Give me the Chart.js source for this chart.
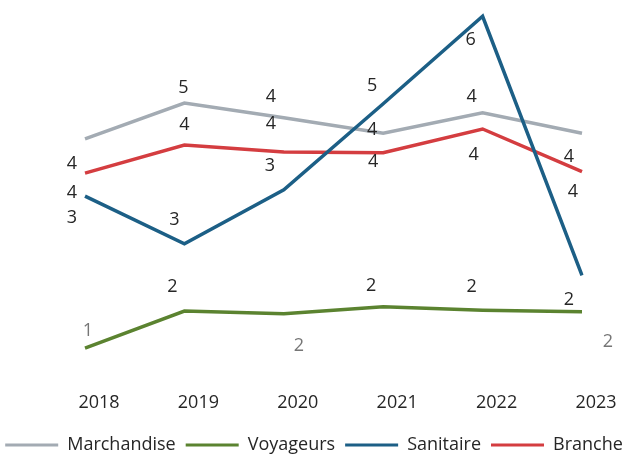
<!DOCTYPE html>
<html>
<head>
<meta charset="utf-8">
<script src="https://cdn.jsdelivr.net/npm/chart.js@4/dist/chart.umd.min.js"></script>
<style>
  html, body { margin: 0; padding: 0; background: #ffffff; }
  #c { display: block; }
</style>
</head>
<body>
<canvas id="c" width="628" height="454"></canvas>
<script>
// ---- data ----
const years = ['2018', '2019', '2020', '2021', '2022', '2023'];
const seriesNames = ['Marchandise', 'Voyageurs', 'Sanitaire', 'Branche'];
const marchandise = [4.06, 4.57, 4.36, 4.14, 4.43, 4.14];
const voyageurs   = [1.07, 1.60, 1.56, 1.66, 1.61, 1.59];
const sanitaire   = [3.24, 2.56, 3.33, 4.56, 5.81, 2.11];
const branche     = [3.57, 3.97, 3.87, 3.86, 4.20, 3.59];

// ---- styles ----
const seriesColors = ['#a3abb3', '#5b8330', '#1c5f86', '#d43d40'];
// label offsets relative to each point [dx, dy]
const labelOffsets = [
  [[-13, 25], [-1, -15], [-13, -21], [-11, -3], [-11, -16], [-13, 24]],
  [[3, -17], [-12, -24], [15, 32], [-12, -21], [-11, -23], [26, 30]],
  [[-13, 22], [-10, -24], [-14, -24], [-11, -18], [-12, 24], [-13, 25]],
  [[-13, 20], [0, -20], [-13, -28], [-10, 9], [-9, 26], [-9, 20]]
];
const dark = '#262626', light = '#767676';
const labelColors = [
  [dark, dark, dark, dark, dark, dark],
  [light, dark, light, dark, dark, light],
  [dark, dark, dark, dark, dark, dark],
  [dark, dark, dark, dark, dark, dark]
];
const FONT = "'Open Sans', 'Noto Sans', sans-serif";
const FONT_SIZE = 18;

const valueLabels = {
  id: 'valueLabels',
  afterDatasetsDraw(chart) {
    const ctx = chart.ctx;
    ctx.save();
    ctx.font = FONT_SIZE + "px " + FONT;
    ctx.textAlign = 'center';
    ctx.textBaseline = 'middle';
    chart.data.datasets.forEach((ds, i) => {
      const meta = chart.getDatasetMeta(i);
      meta.data.forEach((pt, j) => {
        const off = labelOffsets[i][j];
        ctx.fillStyle = labelColors[i][j];
        ctx.fillText(String(Math.round(ds.data[j])), pt.x + off[0], pt.y + off[1]);
      });
    });
    ctx.restore();
  }
};

const allSeries = [marchandise, voyageurs, sanitaire, branche];
const datasets = allSeries.map((d, i) => ({
  label: seriesNames[i],
  data: d,
  borderColor: seriesColors[i],
  backgroundColor: seriesColors[i],
  borderWidth: 3.5,
  pointRadius: 0,
  pointHoverRadius: 0,
  tension: 0,
  order: i === 2 ? 0 : 1
}));

new Chart(document.getElementById('c'), {
  type: 'line',
  data: { labels: years, datasets },
  options: {
    responsive: false,
    animation: false,
    devicePixelRatio: 1,
    layout: { padding: { top: 3, bottom: -10, left: -6, right: -6 } },
    plugins: {
      tooltip: { enabled: false },
      legend: {
        position: 'bottom',
        align: 'center',
        labels: {
          boxWidth: 53,
          boxHeight: 3,
          padding: 10,
          color: '#262626',
          font: { family: FONT, size: FONT_SIZE },
          sort: (a, b) => a.datasetIndex - b.datasetIndex,
          generateLabels(chart) {
            const items = Chart.defaults.plugins.legend.labels.generateLabels(chart);
            items.forEach(it => { it.lineWidth = 0; it.fillStyle = it.strokeStyle; });
            return items;
          }
        }
      }
    },
    scales: {
      x: {
        type: 'category',
        offset: false,
        grid: { display: false, drawTicks: false },
        border: { display: false },
        ticks: {
          autoSkip: false,
          maxRotation: 0,
          labelOffset: 14,
          padding: 39,
          color: '#262626',
          font: { family: FONT, size: FONT_SIZE }
        },
        afterFit(s) { s.height = 73; s.paddingLeft = 0; s.paddingRight = 0; }
      },
      y: {
        min: 1,
        max: 6,
        grid: { display: false, drawTicks: false },
        border: { display: false },
        ticks: { display: false },
        afterFit(s) { s.width = 91; }
      },
      y2: {
        position: 'right',
        grid: { display: false, drawTicks: false },
        border: { display: false },
        ticks: { display: false },
        afterFit(s) { s.width = 52; }
      }
    }
  },
  plugins: [valueLabels]
});
</script>
</body>
</html>
